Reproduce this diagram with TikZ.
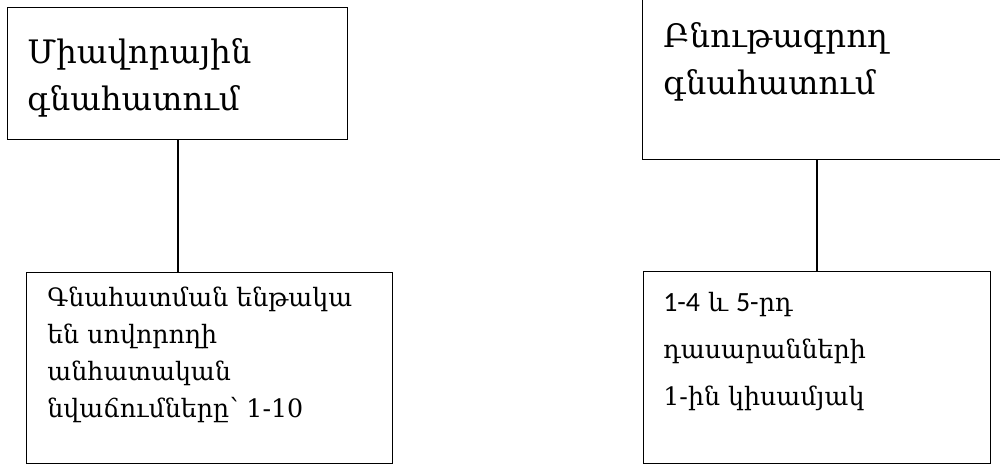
\documentclass[tikz,border=0pt]{standalone}
\usepackage{fontspec}
\setmainfont{DejaVu Serif}
\newfontfamily\carl[Scale=1.1]{Carlito}
\usetikzlibrary{positioning}

\tikzset{
  frame/.style={draw, line width=0.8pt, inner sep=0pt, anchor=north west},
  bigtxt/.style={anchor=base west, inner sep=0pt, align=left,
    font=\fontsize{18.4}{26.7}\selectfont},
  smalltxt/.style={anchor=base west, inner sep=0pt, align=left,
    font=\fontsize{14.4}{20.9}\selectfont}
}

\begin{document}
\begin{tikzpicture}[x=0.02cm, y=-0.02cm]
    \useasboundingbox (0,0) rectangle (1000,463);
    \clip (0,0) rectangle (1000,463);

    % Top boxes
    \node[frame, minimum width=6.8cm, minimum height=2.64cm] (tl) at (7,7) {};
    \node[frame, minimum width=7.36cm, minimum height=3.58cm] (tr) at (642,-20) {};
    % anchor is the baseline of the last line
    \node[bigtxt] (tltxt) at (27,110) {Միավորային\\գնահատում};
    \node[bigtxt] (trtxt) at (663,94) {Բնութագրող\\գնահատում};

    % Bottom boxes
    \node[frame, minimum width=7.32cm, minimum height=3.82cm] (bl) at (26,272) {};
    \node[frame, minimum width=6.94cm, minimum height=3.84cm] (br) at (643,271) {};
    \node[smalltxt] (bltxt) at (47,417)
      {Գնահատման ենթակա\\են սովորողի\\անհատական\\նվաճումները՝ 1-10};
    \node[smalltxt, font=\fontsize{14.4}{26.5}\selectfont] (brtxt) at (663,405)
      {{\carl 1-4} և {\carl 5-}րդ\\դասարանների\\1-ին կիսամյակ};

    % Connectors
    \coordinate (c1) at (178,0);
    \coordinate (c2) at (817,0);
    \draw[line width=0.8pt] (tl.south -| c1) -- (bl.north -| c1);
    \draw[line width=0.8pt] (tr.south -| c2) -- (br.north -| c2);
\end{tikzpicture}
\end{document}
